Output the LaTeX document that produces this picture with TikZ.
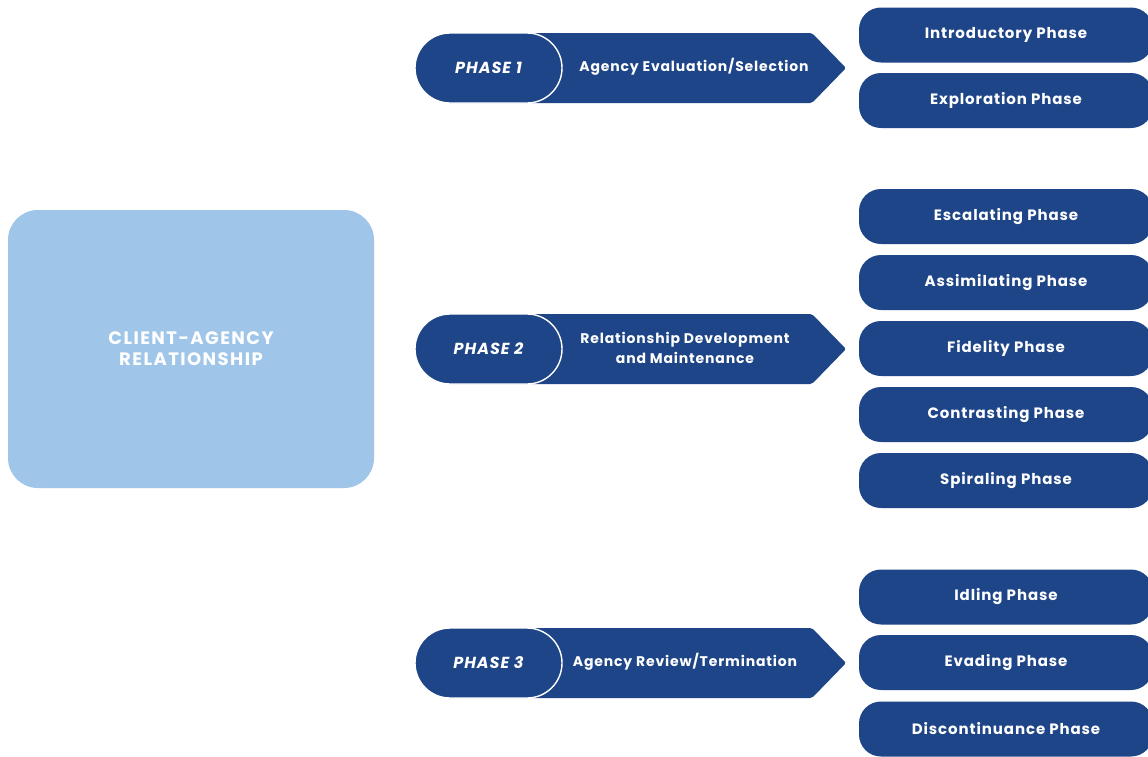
\documentclass[tikz,border=0pt]{standalone}
\usepackage{fontspec}
\setmainfont{Poppins}
\newfontfamily\spaced[LetterSpace=6]{Poppins}
\newfontfamily\wide[LetterSpace=8]{Poppins}
\definecolor{navy}{HTML}{1E4587}
\definecolor{skyblue}{HTML}{9FC5E8}
\begin{document}
\begin{tikzpicture}[x=1pt,y=-1pt,
  phasepill/.style={draw=white,line width=1.4pt,fill=navy,rounded corners=35pt,
    minimum width=147pt,minimum height=70pt,inner sep=0pt,text=white,
    font=\spaced\fontsize{16}{18}\selectfont\bfseries\itshape},
  arrowtext/.style={text=white,align=center,font=\spaced\fontsize{14}{20}\selectfont\bfseries},
  stagepill/.style={fill=navy,rounded corners=22pt,minimum width=294pt,minimum height=55pt,
    inner sep=0pt,text=white,font=\spaced\fontsize{15}{17}\selectfont\bfseries},
  hub/.style={fill=skyblue,rounded corners=30pt,minimum width=366pt,minimum height=278pt,
    text=white,align=center,font=\wide\fontsize{18}{21}\selectfont\bfseries}]
\useasboundingbox (0,0) rectangle (1148,756);
\fill[white] (0,0) rectangle (1148,756);

% central block
\node[hub] (hub) at (191,349) {CLIENT-AGENCY\\RELATIONSHIP};

% phase arrows: body with pointed end, then the pill label on top
\foreach \y/\n in {68/1,349/2,663/3}{
  \fill[navy,rounded corners=2pt] (530,\y-35) -- (812,\y-35) -- (846,\y) -- (812,\y+35) -- (530,\y+35) -- cycle;
}
\node[phasepill] (p1) at (488.5,68) {PHASE 1};
\node[phasepill] (p2) at (488.5,349) {PHASE 2};
\node[phasepill] (p3) at (488.5,663) {PHASE 3};
\node[arrowtext] (a1) at (694,67) {Agency Evaluation/Selection};
\node[arrowtext] (a2) at (685,348) {Relationship Development\\and Maintenance};
\node[arrowtext] (a3) at (685,662) {Agency Review/Termination};

% stages of each phase
\node[stagepill] (s1) at (1006,35) {Introductory Phase};
\node[stagepill] (s2) at (1006,100.5) {Exploration Phase};
\node[stagepill] (s3) at (1006,216.5) {Escalating Phase};
\node[stagepill] (s4) at (1006,282.5) {Assimilating Phase};
\node[stagepill] (s5) at (1006,348.5) {Fidelity Phase};
\node[stagepill] (s6) at (1006,414.5) {Contrasting Phase};
\node[stagepill] (s7) at (1006,480.5) {Spiraling Phase};
\node[stagepill] (s8) at (1006,597) {Idling Phase};
\node[stagepill] (s9) at (1006,662.5) {Evading Phase};
\node[stagepill] (s10) at (1006,729) {Discontinuance Phase};
\end{tikzpicture}
\end{document}
